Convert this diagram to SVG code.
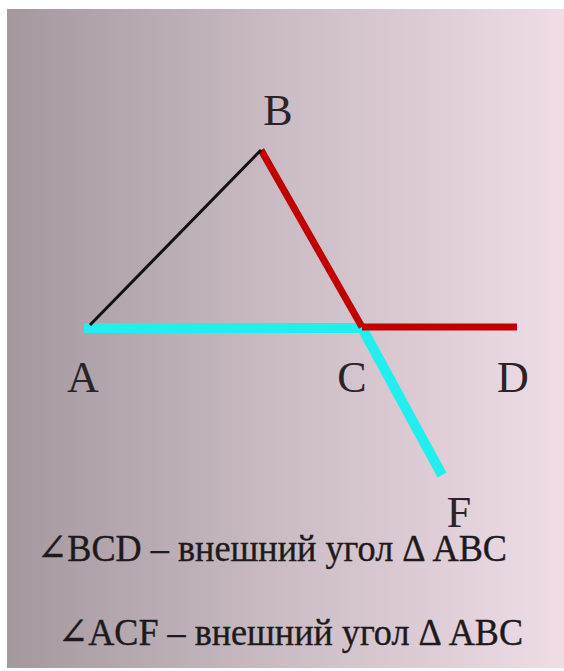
<svg xmlns="http://www.w3.org/2000/svg" width="564" height="671" viewBox="0 0 564 671">
<defs>
<linearGradient id="bg" x1="0" y1="0" x2="1" y2="0">
<stop offset="0" stop-color="#a4989f"/>
<stop offset="0.5" stop-color="#cbbcc5"/>
<stop offset="1" stop-color="#efdce7"/>
</linearGradient>
<style>
.lbl{font-family:"Liberation Serif","DejaVu Serif",serif;font-size:44px;fill:#2a2428;text-anchor:middle}
.cap{font-family:"Liberation Serif","DejaVu Serif",serif;font-size:38px;fill:#1e1a1c;stroke:#1e1a1c;stroke-width:0.4}
.cyan{stroke:#22eeee;stroke-width:10;stroke-linecap:butt;fill:none}
.red{stroke:#c00000;stroke-width:7;fill:none}
.blk{stroke:#111;stroke-width:3;fill:none}
</style>
</defs>
<rect width="564" height="671" fill="#fff"/>
<rect x="7" y="9" width="557" height="659" fill="url(#bg)"/>
<g id="connectors">
<line class="cyan" x1="84" y1="328" x2="364" y2="328"/>
<line class="cyan" x1="361" y1="326" x2="442" y2="475"/>
<line class="red" x1="261" y1="150" x2="362" y2="327"/>
<line class="red" x1="362" y1="327" x2="517" y2="327"/>
<line class="blk" x1="90" y1="325" x2="261" y2="150"/>
</g>
<g id="node-B"><text class="lbl" x="278" y="125">B</text></g>
<g id="node-A"><text class="lbl" x="83" y="392">A</text></g>
<g id="node-C"><text class="lbl" x="352" y="392">C</text></g>
<g id="node-D"><text class="lbl" x="513" y="392">D</text></g>
<g id="node-F"><text class="lbl" x="459" y="527">F</text></g>
<g id="caption1"><text class="cap" x="37" y="561" textLength="470" lengthAdjust="spacingAndGlyphs">∠BCD – внешний угол Δ ABC</text></g>
<g id="caption2"><text class="cap" x="58" y="645" textLength="465" lengthAdjust="spacingAndGlyphs">∠ACF – внешний угол Δ ABC</text></g>
</svg>
